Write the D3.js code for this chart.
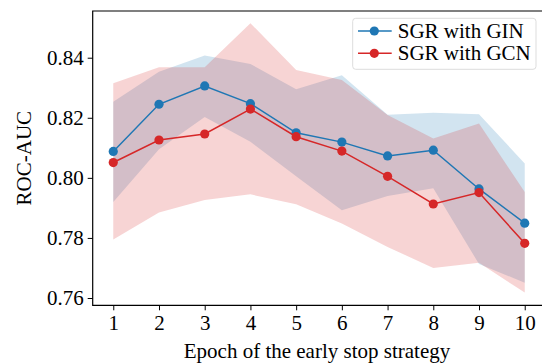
<!DOCTYPE html>
<html>
<head>
<meta charset="utf-8">
<script src="https://cdn.jsdelivr.net/npm/d3@7"></script>
<style>
  html, body { margin: 0; padding: 0; background: #fff; }
  svg { display: block; font-family: "Liberation Serif", "Times New Roman", serif; }
  svg text { font-family: "Liberation Serif", "Times New Roman", serif; font-size: 21px; }
</style>
</head>
<body>
<script>
const width = 542;
const height = 364;

// data
const epochs = [1, 2, 3, 4, 5, 6, 7, 8, 9, 10];
const ginMean  = [0.8088, 0.8245, 0.8306, 0.8247, 0.8150, 0.8119, 0.8073, 0.8092, 0.7963, 0.7849];
const ginUpper = [0.8253, 0.8353, 0.8407, 0.8379, 0.8295, 0.8342, 0.8210, 0.8217, 0.8212, 0.8048];
const ginLower = [0.7920, 0.8095, 0.8203, 0.8120, 0.8005, 0.7892, 0.7940, 0.7965, 0.7713, 0.7651];
const gcnMean  = [0.8051, 0.8126, 0.8146, 0.8229, 0.8137, 0.8089, 0.8005, 0.7913, 0.7951, 0.7782];
const gcnUpper = [0.8315, 0.8368, 0.8368, 0.8515, 0.8359, 0.8326, 0.8209, 0.8131, 0.8181, 0.7953];
const gcnLower = [0.7795, 0.7885, 0.7926, 0.7945, 0.7912, 0.7848, 0.7770, 0.7700, 0.7717, 0.7618];
const yTicks = [0.76, 0.78, 0.80, 0.82, 0.84];
const seriesNames = ["SGR with GIN", "SGR with GCN"];
const colors = ["#1f77b4", "#d62728"];

const plotL = 92.7, plotR = 545.3, plotT = 11, plotB = 305.3;

const svg = d3.select("body")
    .append("svg")
    .attr("width", width)
    .attr("height", height);

const xScale = d3.scaleLinear()
    .domain([0.55, 10.45])
    .range([plotL, plotR]);

const yScale = d3.scaleLinear()
    .domain([0.75757, 0.85555])
    .range([plotB, plotT]);

const series = [
    { mean: ginMean, upper: ginUpper, lower: ginLower },
    { mean: gcnMean, upper: gcnUpper, lower: gcnLower }
];

const area = d3.area()
    .x(d => xScale(d.x))
    .y0(d => yScale(d.lo))
    .y1(d => yScale(d.hi));

const line = d3.line()
    .x(d => xScale(d.x))
    .y(d => yScale(d.y));

// bands
series.forEach((s, i) => {
    const pts = epochs.map((x, j) => ({ x, lo: s.lower[j], hi: s.upper[j] }));
    svg.append("path")
        .datum(pts)
        .attr("d", area)
        .attr("fill", colors[i])
        .attr("fill-opacity", 0.2)
        .attr("stroke", "none");
});

// lines + markers
series.forEach((s, i) => {
    const pts = epochs.map((x, j) => ({ x, y: s.mean[j] }));
    svg.append("path")
        .datum(pts)
        .attr("d", line)
        .attr("fill", "none")
        .attr("stroke", colors[i])
        .attr("stroke-width", 1.5);
    svg.append("g").selectAll("circle")
        .data(pts)
        .join("circle")
        .attr("cx", d => xScale(d.x))
        .attr("cy", d => yScale(d.y))
        .attr("r", 4.6)
        .attr("fill", colors[i]);
});

// axes
const yAxis = d3.axisLeft(yScale)
    .tickValues(yTicks)
    .tickFormat(d3.format(".2f"))
    .tickSize(5)
    .tickPadding(4);

const xAxis = d3.axisBottom(xScale)
    .tickValues(epochs)
    .tickFormat(d3.format("d"))
    .tickSize(5)
    .tickPadding(5);

const gy = svg.append("g")
    .attr("transform", `translate(${plotL},0)`)
    .call(yAxis);
gy.select(".domain").remove();

const gx = svg.append("g")
    .attr("transform", `translate(0,${plotB})`)
    .call(xAxis);
gx.select(".domain").remove();

[gx, gy].forEach(g => {
    g.attr("font-family", null).attr("font-size", null);
    g.selectAll(".tick line").attr("stroke", "#000").attr("stroke-width", 1);
    g.selectAll(".tick text").attr("fill", "#000");
});

// spines (right spine is cropped off)
svg.append("path")
    .attr("d", `M${plotR},${plotT}H${plotL}V${plotB}H${plotR}`)
    .attr("fill", "none")
    .attr("stroke", "#000")
    .attr("stroke-width", 1.2);

// axis titles
svg.append("text")
    .attr("x", (plotL + plotR) / 2 - 2)
    .attr("y", 358)
    .attr("text-anchor", "middle")
    .text("Epoch of the early stop strategy");

svg.append("text")
    .attr("transform", `translate(31,${(plotT + plotB) / 2}) rotate(-90)`)
    .attr("text-anchor", "middle")
    .text("ROC-AUC");

// legend
const legend = svg.append("g").attr("transform", "translate(352.7,18.3)");
legend.append("rect")
    .attr("width", 183.3)
    .attr("height", 51)
    .attr("rx", 3)
    .attr("fill", "#fff")
    .attr("fill-opacity", 0.8)
    .attr("stroke", "#ddd")
    .attr("stroke-width", 1);

seriesNames.forEach((name, i) => {
    const yy = 12.7 + i * 22.3;
    legend.append("line")
        .attr("x1", 5.3).attr("x2", 39)
        .attr("y1", yy).attr("y2", yy)
        .attr("stroke", colors[i])
        .attr("stroke-width", 1.5);
    legend.append("circle")
        .attr("cx", 21.6).attr("cy", yy)
        .attr("r", 4.6)
        .attr("fill", colors[i]);
    legend.append("text")
        .attr("x", 45)
        .attr("y", yy + 7)
        .text(name);
});
</script>
</body>
</html>
